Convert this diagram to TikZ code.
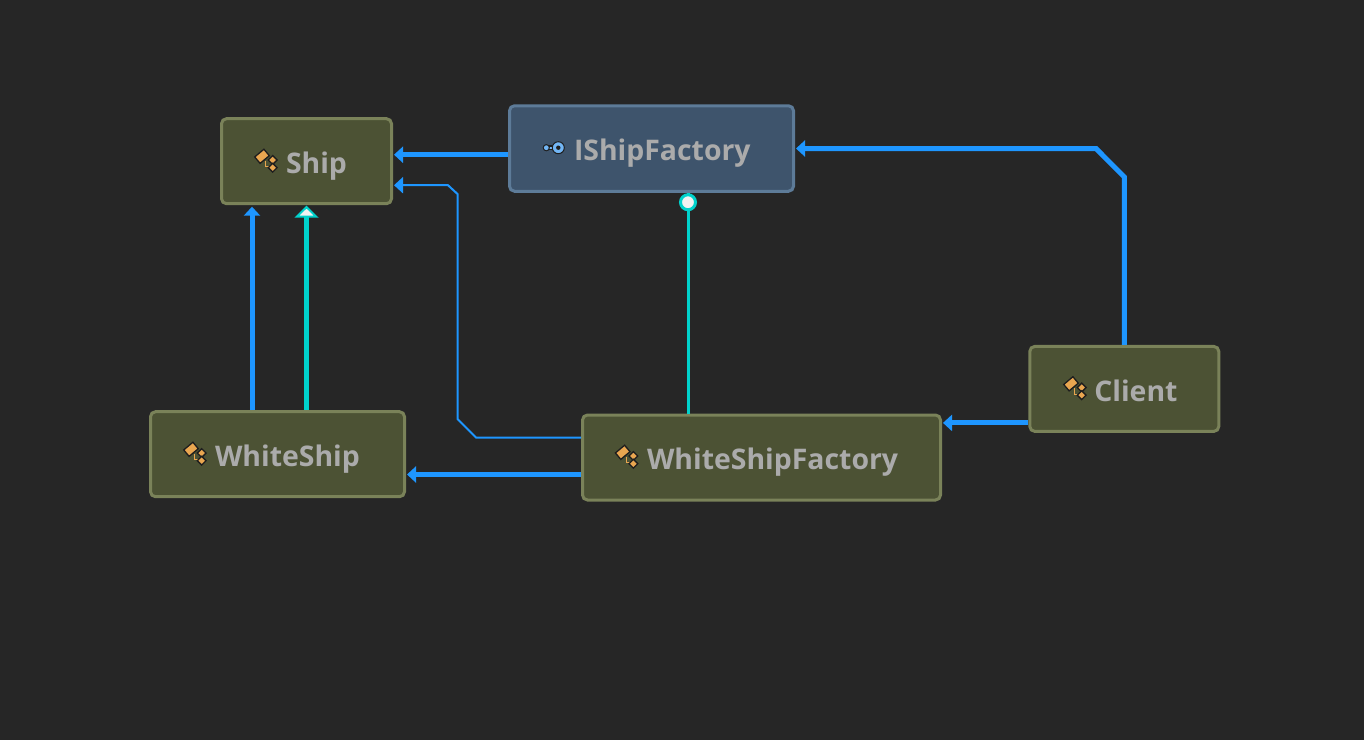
\documentclass[tikz,border=0pt]{standalone}
\usepackage{fontspec}
\setmainfont{Open Sans}
\usetikzlibrary{arrows.meta}
\definecolor{bgc}{HTML}{262626}
\definecolor{flow}{HTML}{1E96FF}
\definecolor{teal}{HTML}{00D2CC}
\definecolor{olivefill}{HTML}{4C5234}
\definecolor{oliveline}{HTML}{7A8259}
\definecolor{bluefill}{HTML}{3E546C}
\definecolor{blueline}{HTML}{5D7B98}
\definecolor{labeltext}{HTML}{ABABAB}
\definecolor{iconorange}{HTML}{E9A650}
\definecolor{iconblue}{HTML}{72B6F5}
\definecolor{icondark}{HTML}{1E1E1E}
\definecolor{headfill}{HTML}{F2F2F2}
\tikzset{
  box/.style={rectangle, rounded corners=5pt, line width=3pt, inner sep=0pt, align=left,
    text=labeltext, font=\fontsize{28.4}{29}\selectfont\bfseries,
    text height=27pt, text depth=2pt,
    execute at begin node={\hspace*{64.5pt}}},
  classbox/.style={box, draw=oliveline, fill=olivefill},
  ifacebox/.style={box, draw=blueline, fill=bluefill},
  thickflow/.style={draw=flow, line width=5pt, -{Triangle[length=9pt,width=16pt]}},
  thinflow/.style={draw=flow, line width=2pt, -{Triangle[length=9pt,width=16pt]}},
  inherit/.style={draw=teal, line width=5.2pt, -{Triangle[open, fill=headfill, length=12pt, width=24pt, line width=2pt]}},
  realize/.style={draw=teal, line width=3pt},
  classicon/.pic={
    \draw[icondark, line width=1.3pt, fill=iconorange, shift={(-4,-4.7)}, rotate=40] (-6,-4.2) rectangle (6,4.2);
    \draw[iconorange, line width=1.3pt] (-0.3,-0.5) -- (-0.3,5.7) -- (5,5.7);
    \draw[icondark, line width=1.3pt, fill=iconorange, shift={(6.7,-1)}, rotate=45] (-3.1,-3.1) rectangle (3.1,3.1);
    \draw[icondark, line width=1.3pt, fill=iconorange, shift={(6.7,6.7)}, rotate=45] (-3.1,-3.1) rectangle (3.1,3.1);
  },
  ifaceicon/.pic={
    \draw[icondark, line width=4.5pt] (-12,0) -- (0,0);
    \draw[iconblue, line width=1.8pt] (-12,0) -- (0,0);
    \fill[icondark] (-12,0) circle (3.6pt);
    \fill[iconblue] (-12,0) circle (2.4pt);
    \draw[icondark, line width=1pt, fill=iconblue] (0,0) circle (6pt);
    \fill[icondark] (0,0) circle (2.2pt);
  }
}
\begin{document}
\begin{tikzpicture}[x=1pt,y=-1pt]
\useasboundingbox[fill=bgc] (0,0) rectangle (1364,740);
\node[classbox, minimum width=170pt, minimum height=85pt, text width=170pt] (Ship) at (306.5,161.2) {Ship};
\node[ifacebox, minimum width=284pt, minimum height=85.5pt, text width=284pt, text height=25pt] (IShipFactory) at (651.5,148.5) {IShipFactory};
\node[classbox, minimum width=254pt, minimum height=85pt, text width=254pt] (WhiteShip) at (277.5,454.2) {WhiteShip};
\node[classbox, minimum width=358pt, minimum height=85pt, text width=358pt, text height=25pt] (WhiteShipFactory) at (761.5,457.5) {WhiteShipFactory};
\node[classbox, minimum width=189pt, minimum height=85pt, text width=189pt] (Client) at (1124.3,388.9) {Client};
\pic at (266,161) {classicon};
\pic at (195,454) {classicon};
\pic at (626.7,457) {classicon};
\pic at (1075,388.5) {classicon};
\pic at (558.3,147.7) {ifaceicon};
\coordinate (clientbend1) at (1124.3,177);
\coordinate (clientbend2) at (1096,148.5);
\coordinate (factbend1) at (476,437.5);
\coordinate (factbend2) at (457.5,419);
\coordinate (factbend3) at (457.5,194);
\coordinate (factbend4) at (448,185.2);
\coordinate (factoryout) at ([yshift=-6.2pt]IShipFactory.west);
\coordinate (clientout) at ([yshift=-34pt]Client.west);
\coordinate (whiteout) at ([yshift=-17pt]WhiteShipFactory.west);
\coordinate (flowup) at ([xshift=-25.5pt]WhiteShip.north);
\coordinate (inheritup) at ([xshift=29pt]WhiteShip.north);
\coordinate (realizeup) at ([xshift=-73.5pt]WhiteShipFactory.north);
\draw[thickflow, shorten >=1pt] (factoryout) -- (factoryout -| Ship.east);
\draw[thickflow, shorten >=1pt] (Client.north) -- (clientbend1) -- (clientbend2) -- (IShipFactory.east);
\draw[thickflow, shorten >=1pt] (clientout) -- (clientout -| WhiteShipFactory.east);
\draw[thickflow, shorten >=1pt] (whiteout) -- (whiteout -| WhiteShip.east);
\draw[thinflow, shorten >=1pt] ([yshift=20pt]WhiteShipFactory.west) -- (factbend1) -- (factbend2) -- (factbend3) -- (factbend4) -- ([yshift=-24pt]Ship.east);
\draw[thickflow, shorten >=1.5pt] (flowup) -- (flowup |- Ship.south);
\draw[inherit, shorten >=0.5pt] (inheritup) -- (inheritup |- Ship.south);
\draw[realize] (realizeup) -- (realizeup |- IShipFactory.south);
\node[circle, draw=teal, line width=3pt, fill=headfill, minimum size=15pt, inner sep=0pt] (lollipop) at ([yshift=-9.5pt]realizeup |- IShipFactory.south) {};
\end{tikzpicture}
\end{document}
